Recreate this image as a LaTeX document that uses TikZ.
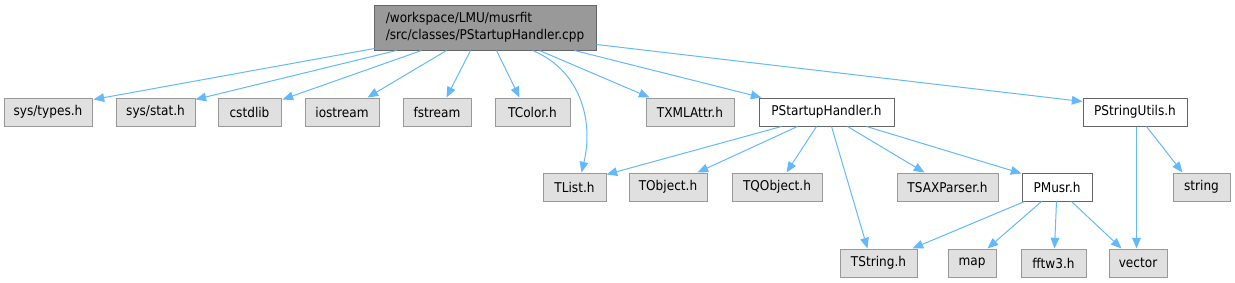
\documentclass[tikz,border=0pt]{standalone}
\usepackage{fontspec}
\setmainfont{DejaVu Sans Condensed}
\usetikzlibrary{arrows.meta}
\definecolor{edgeblue}{HTML}{63B8FF}
\definecolor{grayfill}{HTML}{E0E0E0}
\definecolor{graydraw}{HTML}{999999}
\definecolor{darkdraw}{HTML}{666666}
\definecolor{topfill}{HTML}{999999}
\tikzset{
  basebox/.style={rectangle, inner sep=0pt, line width=0.75pt, font=\fontsize{10.1pt}{12pt}\selectfont, text=black},
  graybox/.style={basebox, fill=grayfill, draw=graydraw},
  whitebox/.style={basebox, fill=white, draw=darkdraw},
  topbox/.style={basebox, fill=topfill, draw=darkdraw, align=left},
  dep/.style={draw=edgeblue, line width=0.75pt, -{Triangle[length=8pt,width=6.5pt]}, fill=none},
}
\newcommand\bx[7]{\node[#1, minimum width={(#4-#3)*0.75pt}, minimum height={(#6-#5)*0.75pt}] (#2) at ({(#3+#4)/2},{(#5+#6)/2}) {#7};}
\begin{document}
\begin{tikzpicture}[x=0.75pt,y=-0.75pt]
\useasboundingbox (0,0) rectangle (1235,282);
% nodes
\bx{topbox}{top}{374}{596}{5}{50}{/workspace/LMU/musrfit\\[1pt]/src/classes/PStartupHandler.cpp}
\bx{graybox}{types}{4}{92}{98}{126}{sys/types.h}
\bx{graybox}{stat}{116}{195}{98}{126}{sys/stat.h}
\bx{graybox}{cstdlib}{218}{281}{98}{126}{cstdlib}
\bx{graybox}{iostream}{305}{379}{98}{126}{iostream}
\bx{graybox}{fstream}{403}{471}{98}{126}{fstream}
\bx{graybox}{tcolor}{495}{570}{98}{126}{TColor.h}
\bx{graybox}{txml}{646}{734}{98}{126}{TXMLAttr.h}
\bx{whitebox}{psh}{759}{894}{98}{126}{PStartupHandler.h}
\bx{whitebox}{psu}{1083}{1187}{98}{126}{PStringUtils.h}
\bx{graybox}{tlist}{543}{606}{173}{201}{TList.h}
\bx{graybox}{tobject}{629}{707}{173}{201}{TObject.h}
\bx{graybox}{tqobject}{732}{822}{173}{201}{TQObject.h}
\bx{graybox}{tsax}{897}{998}{173}{201}{TSAXParser.h}
\bx{whitebox}{pmusr}{1022}{1092}{173}{201}{PMusr.h}
\bx{graybox}{string}{1173}{1230}{173}{201}{string}
\bx{graybox}{tstring}{840}{917}{249}{277}{TString.h}
\bx{graybox}{map}{948}{996}{249}{277}{map}
\bx{graybox}{fftw}{1021}{1086}{249}{277}{fftw3.h}
\bx{graybox}{vector}{1109}{1167}{249}{277}{vector}
% edges from top
\draw[dep] ([shift={(1,-2)}]top.south west) -- ([shift={(1,2)}]types.north east);
\draw[dep] ([shift={(23,0)}]top.south west) -- ([shift={(0,2)}]stat.north east);
\draw[dep] ([shift={(48,0)}]top.south west) -- ([shift={(1,2)}]cstdlib.north east);
\draw[dep] ([shift={(73,0)}]top.south west) -- ([shift={(63,0)}]iostream.north west);
\draw[dep] ([shift={(97,0)}]top.south west) -- ([shift={(44,0)}]fstream.north west);
\draw[dep] ([shift={(123,0)}]top.south west) -- ([shift={(25,0)}]tcolor.north west);
\draw[dep] ([shift={(159,0)}]top.south west) .. controls (580,70) and (594,120) .. ([shift={(39,0)}]tlist.north west);
\draw[dep] ([shift={(166,0)}]top.south west) -- ([shift={(4,0)}]txml.north west);
\draw[dep] ([shift={(201,0)}]top.south west) -- ([shift={(3,0)}]psh.north west);
\draw[dep] ([shift={(0,-6)}]top.south east) -- ([shift={(0,4)}]psu.north west);
% edges from PStartupHandler.h
\draw[dep] ([shift={(23,0)}]psh.south west) -- ([shift={(0,2)}]tlist.north east);
\draw[dep] ([shift={(39,0)}]psh.south west) -- ([shift={(69,0)}]tobject.north west);
\draw[dep] ([shift={(58,0)}]psh.south west) -- ([shift={(55,0)}]tqobject.north west);
\draw[dep] ([shift={(73,0)}]psh.south west) -- ([shift={(28,0)}]tstring.north west);
\draw[dep] ([shift={(89,0)}]psh.south west) -- ([shift={(28,0)}]tsax.north west);
\draw[dep] ([shift={(108,0)}]psh.south west) -- ([shift={(0,1)}]pmusr.north west);
% edges from PMusr.h
\draw[dep] ([shift={(3,0)}]pmusr.south west) -- ([shift={(-5,0)}]tstring.north east);
\draw[dep] ([shift={(20,0)}]pmusr.south west) -- ([shift={(40,0)}]map.north west);
\draw[dep] ([shift={(35,0)}]pmusr.south west) -- ([shift={(34,0)}]fftw.north west);
\draw[dep] ([shift={(50,0)}]pmusr.south west) -- ([shift={(13,0)}]vector.north west);
% edges from PStringUtils.h
\draw[dep] ([shift={(54,0)}]psu.south west) -- ([shift={(28,0)}]vector.north west);
\draw[dep] ([shift={(64,0)}]psu.south west) -- ([shift={(10,0)}]string.north west);
\end{tikzpicture}
\end{document}
